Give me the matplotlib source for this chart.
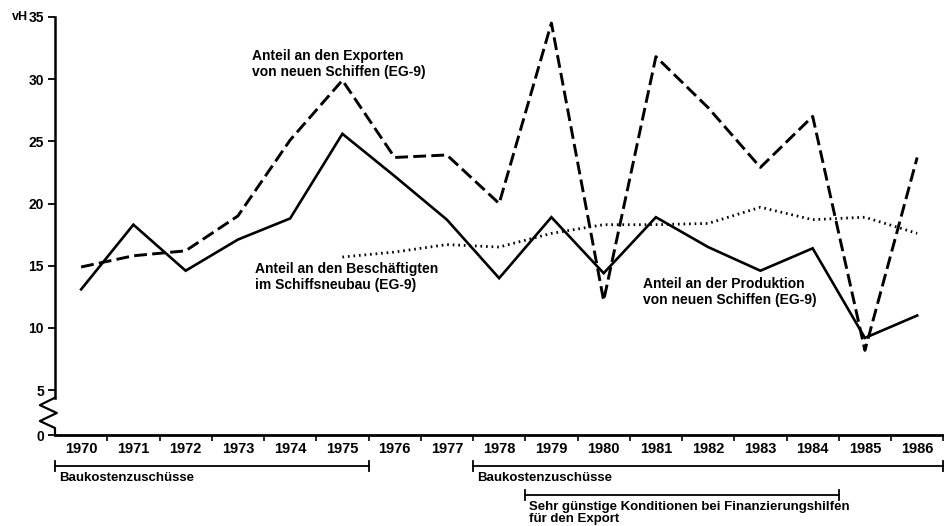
import matplotlib
matplotlib.use("Agg")
import matplotlib.pyplot as plt

plt.rcParams['font.family'] = ['Liberation Sans', 'DejaVu Sans']

# Jahre (Kategorien auf der x-Achse)
years = ['1970', '1971', '1972', '1973', '1974', '1975', '1976', '1977', '1978',
         '1979', '1980', '1981', '1982', '1983', '1984', '1985', '1986']

# Anteil an den Exporten von neuen Schiffen (EG-9), vH
exports = [14.9, 15.8, 16.2, 19.0, 25.1, 29.9, 23.7, 23.9, 20.0,
           34.5, 12.2, 31.8, 27.7, 22.9, 27.0, 8.2, 23.7]

# Anteil an der Produktion von neuen Schiffen (EG-9), vH
production = [13.1, 18.3, 14.6, 17.1, 18.8, 25.6, 22.2, 18.7, 14.0,
              18.9, 14.4, 18.9, 16.5, 14.6, 16.4, 9.2, 11.0]

# Anteil an den Beschaeftigten im Schiffsneubau (EG-9), vH, ab 1975
employ_years = years[5:]
employment = [15.7, 16.1, 16.7, 16.5, 17.6, 18.3, 18.3, 18.4, 19.7, 18.7, 18.9, 17.6]

ytick_vals = [1.4, 5, 10, 15, 20, 25, 30, 35]
ytick_labels = ['0', '5', '10', '15', '20', '25', '30', '35']

fig = plt.figure(figsize=(9.45, 5.26), dpi=100)
ax = fig.add_axes([0.0582, 0.173, 0.94, 0.795])

x = list(range(len(years)))
xe = [years.index(y) for y in employ_years]

ax.plot(x, production, color='black', lw=1.9, solid_joinstyle='miter')
ax.plot(x, exports, color='black', lw=2.1, dashes=(4.4, 1.8))
ax.plot(xe, employment, color='black', lw=2.0, dashes=(0.6, 1.4))

ax.set_xlim(-0.5, len(years) - 0.5)
ax.set_ylim(1.4, 35)

# x axis: labels in the cells, ticks between them
ax.set_xticks(x)
ax.set_xticklabels(years, fontsize=10.5, fontweight='bold')
ax.set_xticks([i - 0.5 for i in range(1, len(years) + 1)], minor=True)
ax.tick_params(axis='x', which='major', length=0, pad=5)
ax.tick_params(axis='x', which='minor', length=4, width=1.2, direction='out')

ax.set_yticks(ytick_vals)
ax.set_yticklabels(ytick_labels, fontsize=10, fontweight='bold')
ax.tick_params(axis='y', length=5, width=1.3, pad=3)

for s in ['top', 'right']:
    ax.spines[s].set_visible(False)
ax.spines['bottom'].set_linewidth(2)
ax.spines['left'].set_linewidth(1.8)
ax.spines['left'].set_bounds(4.4, 35)

# axis break zigzag
yt = ax.get_yaxis_transform()
ax.plot([0, -0.017, 0.002, -0.017, 0, 0], [4.4, 3.8, 3.17, 2.52, 1.96, 1.4],
        transform=yt, color='black', lw=1.6, clip_on=False)

ax.text(-0.0305, 1.0, 'vH', transform=ax.transAxes, fontsize=9, fontweight='bold',
        ha='right', va='center')

# line labels
ax.text(3.27, 32.4, 'Anteil an den Exporten\nvon neuen Schiffen (EG-9)',
        fontsize=10, fontweight='bold', va='top', ha='left', linespacing=1.15)
ax.text(3.33, 15.3, 'Anteil an den Beschäftigten\nim Schiffsneubau (EG-9)',
        fontsize=10, fontweight='bold', va='top', ha='left', linespacing=1.15)
ax.text(10.76, 14.1, 'Anteil an der Produktion\nvon neuen Schiffen (EG-9)',
        fontsize=10, fontweight='bold', va='top', ha='left', linespacing=1.15)

# periods of support below the axis
xt = ax.get_xaxis_transform()
periods = [(-0.5, 5.5, -0.074, 'Baukostenzuschüsse'),
           (7.5, 16.5, -0.074, 'Baukostenzuschüsse'),
           (8.5, 14.5, -0.143, 'Sehr günstige Konditionen bei Finanzierungshilfen\nfür den Export')]
for x0, x1, yb, label in periods:
    ax.plot([x0, x1], [yb, yb], transform=xt, color='black', lw=1.3, clip_on=False)
    for xx in (x0, x1):
        ax.plot([xx, xx], [yb - 0.012, yb + 0.012], transform=xt, color='black',
                lw=1.3, clip_on=False)
    ax.text(x0 + 0.07, yb - 0.014, label, transform=xt, fontsize=9.5, fontweight='bold',
            ha='left', va='top', linespacing=1.0)

fig.savefig('out.png', dpi=100)
